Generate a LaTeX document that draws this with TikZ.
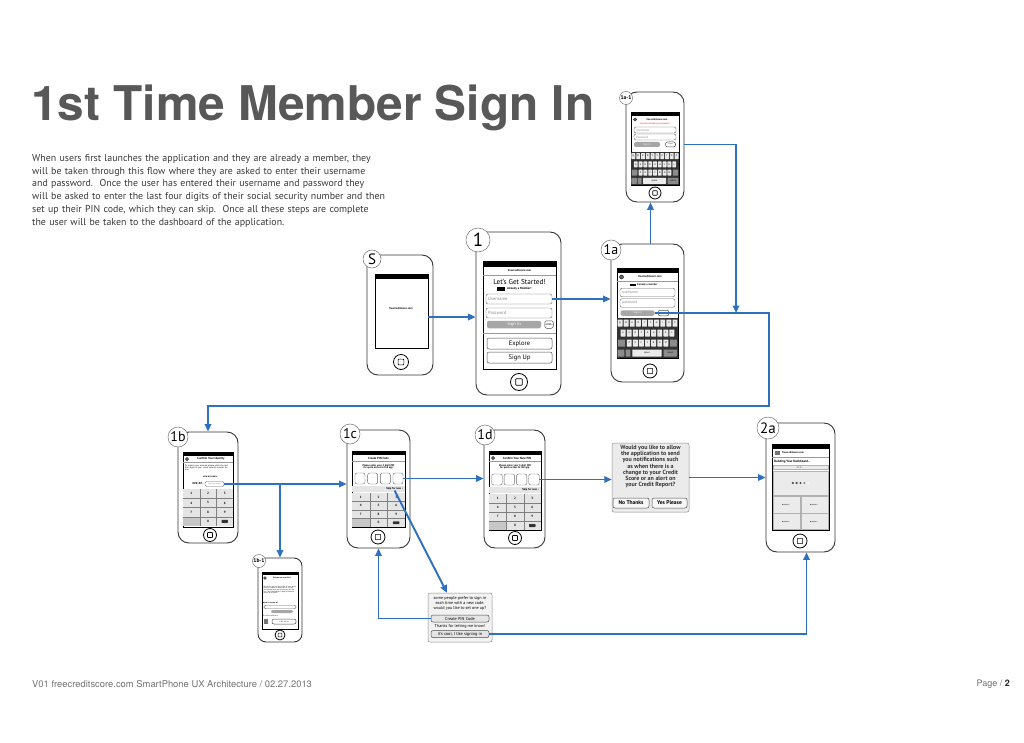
\documentclass[tikz,border=0pt]{standalone}
\usepackage{fontspec}
\setmainfont{PT Sans}
\newfontfamily\heros{TeX Gyre Heros}
\usepackage{xcolor}
\usetikzlibrary{positioning,arrows.meta}

\definecolor{flowblue}{RGB}{46,112,192}
\definecolor{titlegray}{RGB}{88,88,88}
\definecolor{copygray}{RGB}{58,58,58}

\newcommand{\fsz}[1]{\fontsize{#1}{#1}\selectfont}

\tikzset{
  phone/.style={draw=black!80, line width=0.9pt, rounded corners=11pt, fill=white, inner sep=0pt},
  screen/.style={draw=black, line width=0.7pt, fill=white, inner sep=0pt},
  tag/.style={circle, draw=black!55, fill=white, line width=0.5pt, inner sep=0pt},
  homebtn/.style={circle, draw=black, line width=0.8pt, fill=white, inner sep=0pt},
  field/.style={draw=black!60, rounded corners=2pt, line width=0.4pt, fill=white, inner sep=0pt},
  btn/.style={draw=black!70, rounded corners=2pt, line width=0.5pt, fill=white, inner sep=0pt},
  graybtn/.style={fill=black!35, rounded corners=2pt, inner sep=0pt, text=white},
  ghost/.style={anchor=west, inner sep=0pt, text=black!45},
  keycap/.style={fill=black!8, rounded corners=0.4pt, inner sep=0pt, font=\fsz{2.4}},
  dialog/.style={draw=black!45, fill=black!8, rounded corners=2pt, line width=0.5pt, inner sep=0pt},
  panel/.style={draw=black!30, fill=black!8, line width=0.3pt, inner sep=0pt},
  flow/.style={draw=flowblue, line width=1.9pt, -{Triangle[length=7.5pt,width=6.5pt]}},
}

% home key of a phone: name, x, y, size
\newcommand{\homekey}[4]{%
  \node[homebtn, minimum size=#4] (#1) at (#2,#3) {};
  \node[draw, line width=0.6pt, rounded corners=0.6pt, inner sep=0pt, minimum size=0.38*#4] at (#1) {};
}

% number pad: left, top, width, height
\newcommand{\numpad}[4]{%
  \fill[black!10] (#1,#2) rectangle ++(#3,#4);
  \fill[black!22] (#1,#2+0.75*#4) rectangle ++(#3/3,#4/4);
  \foreach \n [count=\k from 0] in {1,2,3,4,5,6,7,8,9,{},0,{}} {
    \pgfmathsetmacro\cx{#1+(mod(\k,3)+0.5)*#3/3}
    \pgfmathsetmacro\cy{#2+(floor(\k/3)+0.5)*#4/4}
    \node[font=\bfseries\fsz{3.2}] at (\cx,\cy) {\n};
  }
  \foreach \j in {1,2} \draw[black!50, line width=0.3pt] (#1+\j*#3/3,#2) -- ++(0,#4);
  \foreach \j in {1,2,3} \draw[black!50, line width=0.3pt] (#1,#2+\j*#4/4) -- ++(#3,0);
  \node[fill=black!80, rounded corners=0.6pt, inner sep=0pt, minimum width=#3/8, minimum height=#4/12] at (#1+2.5*#3/3,#2+3.5*#4/4) {};
}

% keyboard: left, top, width, height
\newcommand{\qwerty}[4]{%
  \fill[black!80] (#1,#2) rectangle ++(#3,#4);
  \pgfmathsetmacro\kp{#3/10}
  \pgfmathsetmacro\kr{#4/4}
  \foreach \c [count=\k from 0] in {Q,W,E,R,T,Y,U,I,O,P}
    \node[keycap, minimum width=0.8*\kp, minimum height=0.7*\kr] at (#1+\k*\kp+0.5*\kp,#2+0.5*\kr) {\c};
  \foreach \c [count=\k from 1] in {A,S,D,F,G,H,J,K,L}
    \node[keycap, minimum width=0.8*\kp, minimum height=0.7*\kr] at (#1+\k*\kp,#2+1.5*\kr) {\c};
  \foreach \c [count=\k from 2] in {Z,X,C,V,B,N,M}
    \node[keycap, minimum width=0.8*\kp, minimum height=0.7*\kr] at (#1+\k*\kp,#2+2.5*\kr) {\c};
  \node[keycap, fill=black!45, minimum width=1.1*\kp, minimum height=0.7*\kr] at (#1+0.75*\kp,#2+2.5*\kr) {};
  \node[keycap, fill=black!45, minimum width=1.1*\kp, minimum height=0.7*\kr] at (#1+9.25*\kp,#2+2.5*\kr) {};
  \node[keycap, fill=black!45, minimum width=1.1*\kp, minimum height=0.7*\kr] at (#1+0.65*\kp,#2+3.5*\kr) {};
  \node[keycap, fill=black!45, minimum width=0.8*\kp, minimum height=0.7*\kr] at (#1+1.8*\kp,#2+3.5*\kr) {};
  \node[keycap, minimum width=4.8*\kp, minimum height=0.7*\kr] at (#1+4.9*\kp,#2+3.5*\kr) {space};
  \node[keycap, fill=black!45, minimum width=2.2*\kp, minimum height=0.7*\kr] at (#1+8.75*\kp,#2+3.5*\kr) {return};
}

% loading dots: x, y, size
\newcommand{\loaddots}[3]{%
  \foreach \d/\s in {0/70,1/70,2/70,3/40,4/3}
    \fill[black!\s] (#1+\d*#3*1.6-3.2*#3,#2) circle[radius=#3/2];
}

\begin{document}
\begin{tikzpicture}[x=1pt,y=-1pt]
\fill[white] (0,0) rectangle (1024,743);
\useasboundingbox (0,0) rectangle (1024,743);

% heading, copy and footer
\node[anchor=base west, inner sep=0pt, font=\heros\bfseries\fsz{47.8}, text=titlegray] (title) at (31,121) {1st Time Member Sign In};
\node[anchor=north west, inner sep=0pt, text width=380, align=left, font=\fontsize{9.9}{12.8}\selectfont, text=copygray] (intro) at (32,154) {When users first launches the application and they are already a member, they\\
will be taken through this flow where they are asked to enter their username\\
and password.\ \ Once the user has entered their username and password they\\
will be asked to enter the last four digits of their social security number and then\\
set up their PIN code, which they can skip.\ \ Once all these steps are complete\\
the user will be taken to the dashboard of the application.};
\node[anchor=west, inner sep=0pt, font=\heros\fsz{9.4}, text=black!55] (foot) at (32,684) {V01 freecreditscore.com SmartPhone UX Architecture / 02.27.2013};
\node[anchor=east, inner sep=0pt, font=\heros\fsz{9}, text=black!55] (page) at (1010,684) {Page / \textcolor{black!85}{\bfseries 2}};

% S: splash
\node[phone, minimum width=66, minimum height=120] (ps) at (400,315) {};
\node[screen, minimum width=53, minimum height=74] (ps-scr) at (401.5,311) {};
\fill (ps-scr.north west) rectangle ([yshift=-5pt]ps-scr.north east);
\node[font=\bfseries\fsz{2.8}] (ps-txt) at (401,309) {freecreditscore.com};
\homekey{ps-home}{401}{362}{15}

% 1: welcome
\node[phone, minimum width=85, minimum height=163] (p1) at (518.5,313.5) {};
\node[screen, minimum width=73, minimum height=108] (p1-scr) at (519.5,315) {};
\fill (p1-scr.north west) rectangle ([yshift=-6pt]p1-scr.north east);
\node[font=\bfseries\fsz{2.8}] at (519.5,271) {freecreditscore.com};
\draw[black!40, line width=0.3pt] (483,275) -- (556,275);
\node[font=\fsz{7.2}] (hello) at (519.5,281.5) {Let's Get Started!};
\fill (497,287) rectangle ++(8,3.5);
\node[font=\bfseries\fsz{3}, anchor=west, inner sep=0pt] at (507,288.8) {Already a Member!};
\node[field, minimum width=66, minimum height=10] (u1) at (519,299) {};
\node[ghost, font=\fsz{4.5}] at (488,299) {Username};
\node[field, minimum width=66, minimum height=10] (pw1) at (519,313) {};
\node[ghost, font=\fsz{4.5}] at (488,313) {Password};
\node[graybtn, minimum width=54, minimum height=7.5, font=\fsz{4.5}] (si1) at (514,324.5) {Sign In};
\node[btn, minimum width=8.5, minimum height=7.5, font=\fsz{1.8}, align=center] (fg1) at (549,324.5) {forgot\\password};
\draw[black!40, line width=0.3pt] (483,333) -- (556,333);
\node[btn, minimum width=65, minimum height=11, font=\fsz{6.5}] (ex1) at (519.5,343.5) {Explore};
\node[btn, minimum width=65, minimum height=11, font=\fsz{6.5}] (su1) at (519.5,357.5) {Sign Up};
\homekey{p1-home}{519}{382}{17}

% 1a: sign in with keyboard
\node[phone, minimum width=73, minimum height=138] (p1a) at (647.5,313) {};
\node[screen, minimum width=61, minimum height=90] (p1a-scr) at (647.5,313) {};
\fill (p1a-scr.north west) rectangle ([yshift=-5pt]p1a-scr.north east);
\node[circle, draw, fill=black!60, line width=0.3pt, minimum size=4, inner sep=0pt] at (621.5,277) {};
\node[font=\bfseries\fsz{2.8}] at (650,277) {freecreditscore.com};
\draw[black!40, line width=0.3pt] (617,281) -- (678,281);
\fill (630,283.5) rectangle ++(6,2.5);
\node[font=\bfseries\fsz{2.6}, anchor=west, inner sep=0pt] at (637,284.8) {Already a member};
\node[field, minimum width=55, minimum height=8.5] (u1a) at (647.5,292.5) {};
\node[ghost, font=\fsz{3.8}] at (622,292.5) {username};
\node[field, minimum width=55, minimum height=8.5] (pw1a) at (647.5,303) {};
\node[ghost, font=\fsz{3.8}] at (622,303) {password};
\node[graybtn, minimum width=34, minimum height=5.5, font=\fsz{2.8}] (si1a) at (637.5,313) {Sign In};
\node[btn, minimum width=11, minimum height=5.5, font=\fsz{1.8}] (fg1a) at (663.5,313) {forgot};
\qwerty{617}{318}{61}{40}
\homekey{p1a-home}{650}{371}{14}

% 1a-1: sign in error
\node[phone, minimum width=58, minimum height=110] (p1a1) at (655,147) {};
\node[screen, minimum width=48, minimum height=73] (p1a1-scr) at (655,148.5) {};
\fill (p1a1-scr.north west) rectangle ([yshift=-4pt]p1a1-scr.north east);
\node[circle, draw, fill=black!60, line width=0.3pt, minimum size=3.5, inner sep=0pt] at (635,119.5) {};
\node[font=\bfseries\fsz{2.5}] at (657,119.5) {freecreditscore.com};
\node[font=\fsz{2.3}, text=red] at (655,123.5) {Invalid username or password};
\node[field, minimum width=42, minimum height=6] (u1a1) at (655,130) {};
\node[ghost, font=\fsz{3}] at (636,130) {Username};
\node[field, minimum width=42, minimum height=6] (pw1a1) at (655,137) {};
\node[ghost, font=\fsz{3}] at (636,137) {Password};
\node[graybtn, minimum width=26, minimum height=5, font=\fsz{2.5}] (si1a1) at (647,144.5) {Sign In};
\node[btn, minimum width=10, minimum height=5, font=\fsz{1.6}] (fg1a1) at (670.5,144.5) {forgot};
\qwerty{631}{152}{48}{33}
\homekey{p1a1-home}{655}{193}{12}

% 1b: confirm identity
\node[phone, minimum width=60, minimum height=111] (p1b) at (208,487.5) {};
\node[screen, minimum width=50, minimum height=75] (p1b-scr) at (208,489.5) {};
\fill (p1b-scr.north west) rectangle ([yshift=-4pt]p1b-scr.north east);
\node[circle, draw, fill=black!60, line width=0.3pt, minimum size=3.5, inner sep=0pt] at (187,459) {};
\node[font=\bfseries\fsz{3}] at (211,459) {Confirm Your Identity};
\draw[black!40, line width=0.3pt] (183,462) -- (233,462);
\node[font=\fsz{2.2}, align=left, text width=46, inner sep=0pt] at (208,467.5) {To protect your account please enter the last four digits of your social security number below.};
\node[font=\bfseries\fsz{2.6}] at (210,477) {xxx-xx-xxxx};
\node[font=\bfseries\fsz{3}, anchor=east, inner sep=0pt] at (204,483.5) {\#\#\#-\#\# -};
\node[field, minimum width=19, minimum height=5, font=\fsz{2}, text=black!45] (f1b) at (214.5,484) {last four digits};
\numpad{183}{489}{50}{37}
\homekey{p1b-home}{210}{535}{13}

% 1b-1: why we ask
\node[phone, rounded corners=8pt, minimum width=44, minimum height=84] (p1b1) at (280,600) {};
\node[screen, minimum width=36, minimum height=57] (p1b1-scr) at (280,600.5) {};
\fill (p1b1-scr.north west) rectangle ([yshift=-3pt]p1b1-scr.north east);
\node[circle, draw, fill=black!60, line width=0.3pt, minimum size=3, inner sep=0pt] at (265,578) {};
\node[font=\bfseries\fsz{1.9}] at (282,578) {Why do we need this?};
\node[font=\fsz{1.7}, align=left, text width=33, inner sep=0pt] at (280,590) {We ask for the last four digits of your social security number to make sure it is really you signing in to your account on this device. Your information is kept private and secure at all times.};
\node[font=\bfseries\fsz{1.8}, anchor=west, inner sep=0pt] at (263,603) {Need to contact us?};
\node[field, minimum width=32, minimum height=3.5] at (280,607) {};
\node[graybtn, minimum width=22, minimum height=3] at (282,611.5) {};
\node[font=\fsz{1.7}, anchor=west, inner sep=0pt] at (263,616) {Or call us toll free at};
\fill[black!55] (264,619) rectangle ++(4,5);
\node[btn, minimum width=24, minimum height=5, font=\fsz{1.7}] at (284,621.5) {1-800 call us};
\homekey{p1b1-home}{280}{635}{10}

% 1c: create PIN
\node[phone, minimum width=63, minimum height=118] (p1c) at (378.5,489) {};
\node[screen, minimum width=53, minimum height=76] (p1c-scr) at (378.5,489) {};
\fill (p1c-scr.north west) rectangle ([yshift=-4pt]p1c-scr.north east);
\node[font=\bfseries\fsz{3}] at (378.5,458) {Create PIN Code};
\draw[black!40, line width=0.3pt] (352,461.5) -- (405,461.5);
\node[font=\bfseries\fsz{2.6}, align=center, inner sep=0pt] at (378.5,467) {Please enter your 4 digit PIN\\for quick access to the app.};
\foreach \i in {0,...,3}
  \node[field, minimum width=10, minimum height=11] (pin1c\i) at (360+12.67*\i,478.5) {};
\fill[black!10] (352,486) rectangle (405,492);
\node[font=\bfseries\fsz{2.8}, anchor=east, inner sep=0pt] (skip1c) at (403,489) {Skip for now ›};
\numpad{352}{493}{53}{34}
\homekey{p1c-home}{378}{537}{14}

% 1d: confirm PIN
\node[phone, minimum width=61, minimum height=118] (p1d) at (514.5,489) {};
\node[screen, minimum width=52, minimum height=79] (p1d-scr) at (515,490.5) {};
\fill (p1d-scr.north west) rectangle ([yshift=-4pt]p1d-scr.north east);
\node[circle, draw, fill=black!60, line width=0.3pt, minimum size=3.5, inner sep=0pt] at (493,458) {};
\node[font=\bfseries\fsz{3}] at (517,458) {Confirm Your New PIN};
\draw[black!40, line width=0.3pt] (489,461.5) -- (541,461.5);
\node[font=\bfseries\fsz{2.6}, align=center, inner sep=0pt] at (515,467) {Please enter your 4 digit PIN\\for quick access to the app.};
\foreach \i in {0,...,3}
  \node[field, minimum width=10.5, minimum height=11] (pin1d\i) at (497+12.33*\i,479.5) {};
\fill[black!10] (489,487) rectangle (541,492.5);
\node[font=\bfseries\fsz{2.8}, anchor=east, inner sep=0pt] (skip1d) at (539,489.8) {Skip for now ›};
\numpad{489}{494}{52}{36}
\homekey{p1d-home}{515}{538}{13}

% notification prompt
\node[dialog, minimum width=77, minimum height=69] (dlg) at (650.5,477.5) {};
\node[font=\bfseries\fontsize{6}{6.1}\selectfont, align=center, text=black!80, inner sep=0pt] (dlg-txt) at (650.5,466.5) {Would you like to allow\\the application to send\\you notifications such\\as when there is a\\change to your Credit\\Score or an alert on\\your Credit Report?};
\node[btn, fill=black!3, minimum width=36, minimum height=10, font=\bfseries\fsz{5.5}] (no) at (631,503) {No Thanks};
\node[btn, fill=black!3, minimum width=35, minimum height=10, font=\bfseries\fsz{5.5}] (yes) at (669.5,503) {Yes Please};

% 2a: dashboard
\node[phone, minimum width=69, minimum height=129] (p2a) at (800.5,487.5) {};
\node[screen, minimum width=57, minimum height=86] (p2a-scr) at (800.5,487) {};
\fill (p2a-scr.north west) rectangle ([yshift=-5pt]p2a-scr.north east);
\fill[black!55] (775,451) rectangle ++(5,4);
\node[font=\bfseries\fsz{2.6}, anchor=west, inner sep=0pt] at (782,453) {freecreditscore.com};
\draw[black!40, line width=0.3pt] (772,457) -- (829,457);
\node[font=\bfseries\fsz{3.2}, anchor=west, inner sep=0pt] at (774,461.5) {Building Your Dashboard...};
\node[panel, minimum width=55, minimum height=4.5] (bar2a) at (800.5,467) {};
\loaddots{800.5}{467}{1}
\node[panel, minimum width=55, minimum height=24] (big2a) at (800.5,483) {};
\loaddots{800.5}{483}{2.4}
\foreach \x/\y/\h in {787/504.5/17,815/504.5/17,787/521.5/16,815/521.5/16} {
  \node[panel, minimum width=27, minimum height=\h] at (\x,\y) {};
  \loaddots{\x}{\y}{1.3}
}
\homekey{p2a-home}{800}{541}{14}

% skip PIN prompt
\node[dialog, fill=black!5, minimum width=64, minimum height=49] (pop) at (460,617.5) {};
\node[font=\fontsize{4.2}{5}\selectfont, align=center, inner sep=0pt] (pop-txt) at (460,603) {some people prefer to sign in\\each time with a new code.\\would you like to set one up?};
\node[btn, fill=black!10, minimum width=58, minimum height=7, font=\fsz{4.3}] (cpin) at (460,618.5) {Create PIN Code};
\node[font=\fsz{4.2}, inner sep=0pt] (thx) at (460,626.5) {Thanks for letting me know!};
\node[btn, fill=black!10, minimum width=58, minimum height=7, font=\fsz{4.3}] (cool) at (460,634) {it's cool, I like signing in};

% screen tags
\node[tag, minimum size=18, font=\fsz{15}] (tag-s) at (372,259) {S};
\node[tag, minimum size=24, font=\fsz{19}] (tag-1) at (478,240) {1};
\node[tag, minimum size=20, font=\fsz{14}] (tag-1a) at (611,250) {1a};
\node[tag, minimum size=13, font=\bfseries\fsz{5.5}] (tag-1a1) at (626,98) {1a-1};
\node[tag, minimum size=20, font=\fsz{14}] (tag-1b) at (178,437) {1b};
\node[tag, minimum size=13, font=\bfseries\fsz{5.5}] (tag-1b1) at (259,561) {1b-1};
\node[tag, minimum size=20, font=\fsz{14}] (tag-1c) at (350,434) {1c};
\node[tag, minimum size=20, font=\fsz{14}] (tag-1d) at (485,435) {1d};
\node[tag, minimum size=22, font=\fsz{15}] (tag-2a) at (768,428) {2a};

% flow
\coordinate (s-out) at ([yshift=-6pt]ps-scr.east);
\coordinate (join1a) at (736,313);
\coordinate (turn1a) at (769,406);
\draw[flow] (s-out) -- (p1.west |- s-out);
\draw[flow] (u1.east) -- (p1a.west |- u1.east);
\draw[flow] ([xshift=3pt]p1a.north) -- ([xshift=3pt]p1a.north |- p1a1.south);
\draw[flow] (p1a1.east |- si1a1) -| (join1a);
\draw[flow] (si1a.east) -| (turn1a) -| (p1b.north);
\draw[flow] (f1b.east) -- (p1c.west |- f1b.east);
\draw[flow] (f1b.east -| p1b1.north) -- (p1b1.north);
\draw[flow] (pin1c3.east) -- (p1d.west |- pin1c3.east);
\draw[flow] (pin1d3.east) -- (dlg.west |- pin1d3.east);
\draw[flow] (dlg.east) -- (p2a.west |- dlg.east);
\draw[flow] (skip1c.south) -- ([xshift=-13pt]pop.north);
\draw[flow] (cpin.west) -| (p1c.south);
\draw[flow] (cool.east) -| ([xshift=6pt]p2a.south);
\end{tikzpicture}
\end{document}
